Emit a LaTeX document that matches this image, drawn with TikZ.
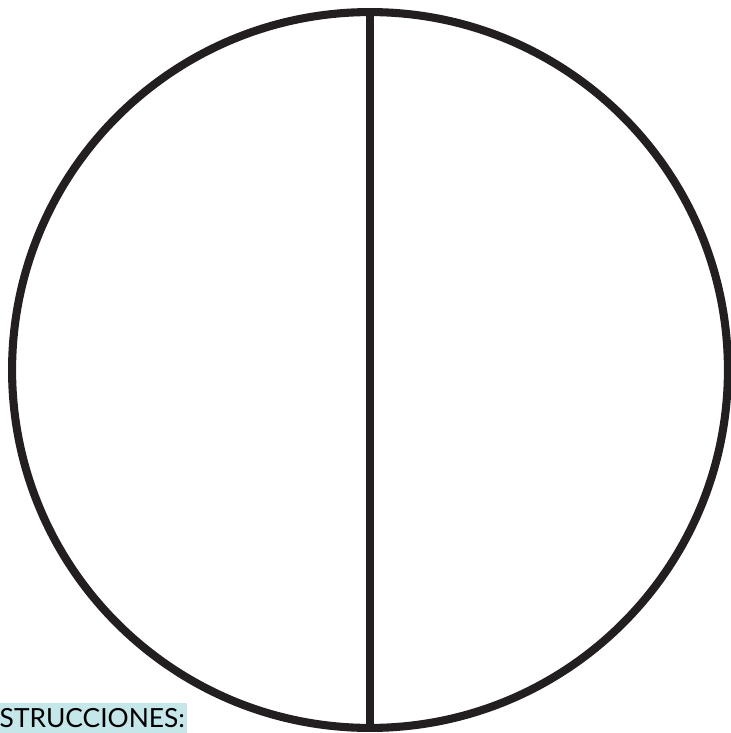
\documentclass[tikz,border=0pt]{standalone}
\usepackage{fontspec}
\setmainfont{Lato}
\usepackage{xcolor}
\usetikzlibrary{positioning}
\definecolor{tagcyan}{HTML}{C6E7EA}
\definecolor{inkblack}{HTML}{231F20}

\begin{document}
\begin{tikzpicture}[
    x=0.02cm, y=-0.02cm,
    disc/.style={circle, draw=inkblack, line width=4.6pt,
                 minimum size=14.32cm, inner sep=0pt, outer sep=0pt},
    divider/.style={draw=inkblack, line width=4.6pt},
    tag/.style={fill=tagcyan, font=\fontsize{15}{15}\selectfont,
                inner xsep=1pt, inner ysep=3pt, anchor=south east}
]
\useasboundingbox (0,0) rectangle (730,733);
\node[disc] (wheel) at (370,370) {};
\draw[divider] (wheel.north) -- (wheel.south);
\node[tag] (instr) at (187,733) {STRUCCIONES:};
\end{tikzpicture}
\end{document}
